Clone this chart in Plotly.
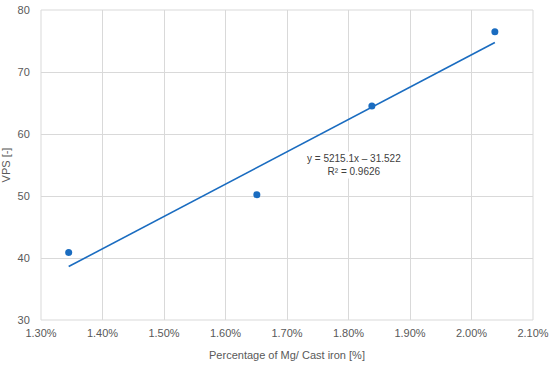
import plotly.graph_objects as go

mg_fraction = [0.01345, 0.01651, 0.01838, 0.02038]
vps = [40.9, 50.2, 64.5, 76.5]
slope = 5215.1
intercept = -31.522
r2 = 0.9626

trend_x = [min(mg_fraction), max(mg_fraction)]
trend_y = [slope * v + intercept for v in trend_x]

blue = "#1a6cc0"
grid = "#d9d9d9"
tick_font = dict(family="Liberation Sans", size=11, color="#595959")

fig = go.Figure()
fig.add_trace(go.Scatter(x=trend_x, y=trend_y, mode="lines",
                         line=dict(color=blue, width=1.6), showlegend=False, hoverinfo="skip"))
fig.add_trace(go.Scatter(x=mg_fraction, y=vps, mode="markers",
                         marker=dict(color=blue, size=7), showlegend=False))

fig.add_annotation(x=0.01809, y=55.0, xref="x", yref="y",
                   text="y = 5215.1x – 31.522<br>R² = %.4f" % r2,
                   showarrow=False, align="center", bgcolor="white",
                   font=dict(family="Liberation Sans", size=10, color="#404040"))

fig.update_layout(
    width=550, height=369,
    margin=dict(l=41, r=17, t=10, b=49),
    paper_bgcolor="white", plot_bgcolor="white",
    xaxis=dict(range=[0.013, 0.021], dtick=0.001, tick0=0.013, tickformat=".2%",
               showgrid=True, gridcolor=grid, gridwidth=1, zeroline=False,
               showline=False, ticks="outside", ticklen=3, tickcolor="rgba(0,0,0,0)",
               tickfont=tick_font, automargin=False,
               title=dict(text="Percentage of Mg/ Cast iron [%]", font=tick_font, standoff=13)),
    yaxis=dict(range=[30, 80], dtick=10, showgrid=True, gridcolor=grid, gridwidth=1,
               zeroline=False, showline=False, ticks="outside", ticklen=8,
               tickcolor="rgba(0,0,0,0)", tickfont=tick_font, automargin=False,
               title=dict(text="VPS [-]", font=tick_font, standoff=6)),
)
fig.add_shape(type="rect", xref="paper", yref="paper", x0=0, y0=0, x1=1, y1=1,
              line=dict(color=grid, width=1), layer="below")

fig.write_html("out.html", config={"displayModeBar": False},
               post_script="document.body.style.margin='0';document.body.style.overflow='hidden';")
